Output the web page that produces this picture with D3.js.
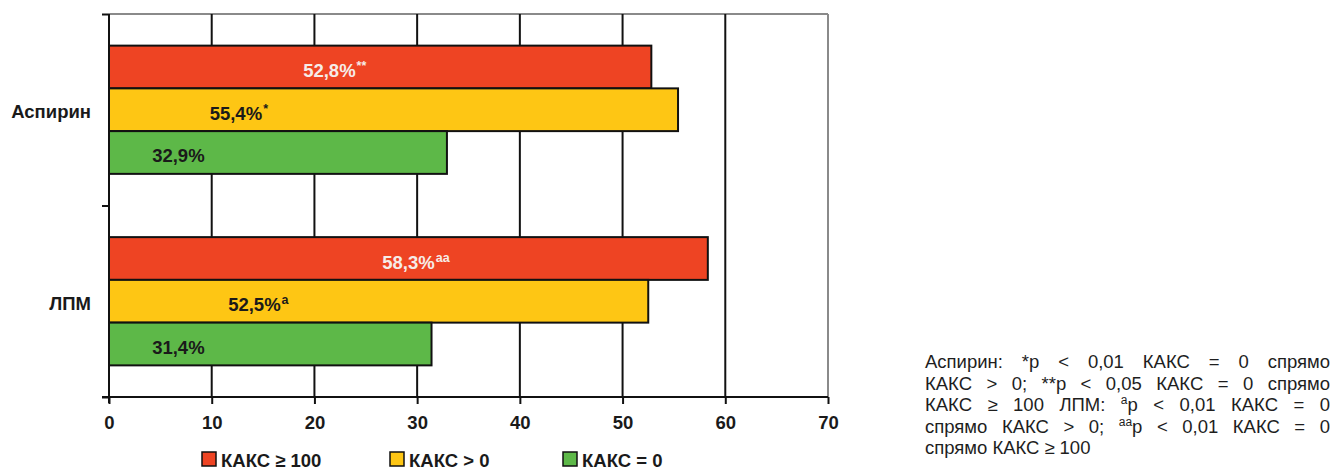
<!DOCTYPE html>
<html><head><meta charset="utf-8">
<script src="https://cdn.jsdelivr.net/npm/d3@7"></script>
<style>body{margin:0;background:#fff}svg{display:block;font-family:"Liberation Sans",Arial,sans-serif}</style>
</head><body>
<svg id="c" width="1332" height="473"></svg>
<script>
// ---- data ----
const categories = ["Аспирин", "ЛПМ"];
const seriesNames = ["КАКС ≥ 100", "КАКС > 0", "КАКС = 0"];
const aspirinValues = [52.8, 55.4, 32.9];
const lpmValues = [58.3, 52.5, 31.4];
const aspirinMarks = ["**", "*", ""];
const lpmMarks = ["aa", "a", ""];
const xTicks = [0, 10, 20, 30, 40, 50, 60, 70];
const footLines = [
  [["Аспирин:"], ["*p"], ["<"], ["0,01"], ["КАКС"], ["="], ["0"], ["спрямо"]],
  [["КАКС"], [">"], ["0;"], ["**p"], ["<"], ["0,05"], ["КАКС"], ["="], ["0"], ["спрямо"]],
  [["КАКС"], ["≥"], ["100"], ["ЛПМ:"], ["^a", "p"], ["<"], ["0,01"], ["КАКС"], ["="], ["0"]],
  [["спрямо"], ["КАКС"], [">"], ["0;"], ["^aa", "p"], ["<"], ["0,01"], ["КАКС"], ["="], ["0"]],
  [["спрямо"], ["КАКС"], ["≥"], ["100"]]
];

// ---- layout / style ----
const colors = ["#ee4423", "#fec614", "#5db848"];
const textColors = ["#f6ece8", "#1a1a1a", "#1a1a1a"];
const labelStartVal = [[18.9, 9.8, 4.2], [26.6, 11.6, 4.2]]; // label anchor in data units
const FS = 18.5;

const svg = d3.select("#c");
const pLeft = 109, pRight = 828, pTop = 14, pBottom = 397;
const x = d3.scaleLinear().domain([0, 70]).range([pLeft, pRight]);
const y0 = d3.scaleBand().domain(categories).range([pTop, pBottom]);
const y1 = d3.scaleBand().domain(seriesNames).range([0, y0.bandwidth()]).paddingOuter(0.74);

const data = categories.map((c, i) => ({
  cat: c,
  vals: (i === 0 ? aspirinValues : lpmValues).map((v, j) => ({
    s: seriesNames[j], v, j, mark: (i === 0 ? aspirinMarks : lpmMarks)[j], start: labelStartVal[i][j]
  }))
}));

// frame (top & right gray)
svg.append("line").attr("x1", pLeft).attr("x2", pRight).attr("y1", pTop).attr("y2", pTop).attr("stroke", "#8a8a8a").attr("stroke-width", 2);
svg.append("line").attr("x1", pRight).attr("x2", pRight).attr("y1", pTop).attr("y2", pBottom).attr("stroke", "#8a8a8a").attr("stroke-width", 2);

// gridlines
svg.append("g").selectAll("line").data(xTicks.filter(t => t > 0 && t < 70)).join("line")
  .attr("x1", d => x(d)).attr("x2", d => x(d)).attr("y1", pTop).attr("y2", pBottom)
  .attr("stroke", "#111").attr("stroke-width", 2);

// bars
const g = svg.append("g").selectAll("g").data(data).join("g")
  .attr("transform", d => `translate(0,${y0(d.cat)})`);
g.selectAll("rect").data(d => d.vals).join("rect")
  .attr("x", x(0)).attr("y", d => y1(d.s))
  .attr("width", d => x(d.v) - x(0)).attr("height", y1.bandwidth())
  .attr("fill", d => colors[d.j]).attr("stroke", "#111").attr("stroke-width", 2);

// bar labels
const lab = g.selectAll("text").data(d => d.vals).join("text")
  .attr("x", d => x(d.start)).attr("y", d => y1(d.s) + y1.bandwidth() / 2 + 3)
  .attr("dominant-baseline", "central")
  .attr("font-size", FS).attr("font-weight", "bold")
  .attr("fill", d => textColors[d.j]);
lab.append("tspan").text(d => d.v.toFixed(1).replace(".", ",") + "%");
lab.append("tspan").attr("font-size", 12.5).attr("dx", 1).attr("dy", -4).text(d => d.mark);

// axes
const xAxis = svg.append("g").attr("transform", `translate(0,${pBottom})`)
  .call(d3.axisBottom(x).tickValues(xTicks).tickSize(7).tickPadding(12).tickFormat(d3.format("d")));
xAxis.select(".domain").attr("stroke", "#111").attr("stroke-width", 2).attr("d", `M${pLeft - 7},0H${pRight}`);
xAxis.selectAll(".tick line").attr("stroke", "#111").attr("stroke-width", 2);
xAxis.selectAll(".tick text").attr("font-size", FS).attr("font-weight", "bold").attr("fill", "#1a1a1a")
  .attr("font-family", "Liberation Sans, Arial, sans-serif");

const yAxisScale = d3.scaleLinear().domain([0, 2]).range([pBottom, pTop]);
const yAxis = svg.append("g").attr("transform", `translate(${pLeft},0)`)
  .call(d3.axisLeft(yAxisScale).tickValues([0, 1, 2]).tickSize(7).tickFormat(""));
yAxis.select(".domain").attr("stroke", "#111").attr("stroke-width", 2).attr("d", `M0,${pTop}V${pBottom + 6}`);
yAxis.selectAll(".tick line").attr("stroke", "#111").attr("stroke-width", 2);

// category labels
svg.append("g").selectAll("text").data(categories).join("text")
  .attr("x", 91).attr("y", d => y0(d) + y0.bandwidth() / 2 + 2)
  .attr("dominant-baseline", "central").attr("text-anchor", "end")
  .attr("font-size", FS).attr("font-weight", "bold").attr("fill", "#1a1a1a")
  .text(d => d);

// legend
const legX = [202, 390, 563];
const leg = svg.append("g").selectAll("g").data(seriesNames).join("g")
  .attr("transform", (d, i) => `translate(${legX[i]},452)`);
leg.append("rect").attr("width", 14).attr("height", 14)
  .attr("fill", (d, i) => colors[i]).attr("stroke", "#111").attr("stroke-width", 1.5);
leg.append("text").attr("x", 19).attr("y", 8).attr("dominant-baseline", "central")
  .attr("font-size", FS).attr("font-weight", "bold").attr("fill", "#1a1a1a").text(d => d);

// footnote (justified)
const fx0 = 925, fx1 = 1330, fy0 = 368, flh = 21.6, FFS = 18.5;
const foot = svg.append("g").attr("fill", "#1e1e1e").attr("font-size", FFS);
footLines.forEach((words, li) => {
  const els = words.map(parts => {
    const t = foot.append("text").attr("y", fy0 + li * flh);
    let raised = false;
    parts.forEach(p => {
      if (p.startsWith("^")) {
        t.append("tspan").attr("font-size", 12).attr("dy", -7).text(p.slice(1));
        raised = true;
      } else {
        t.append("tspan").attr("dy", raised ? 7 : 0).text(p);
        raised = false;
      }
    });
    return t;
  });
  const widths = els.map(e => e.node().getComputedTextLength());
  const total = d3.sum(widths);
  const last = li === footLines.length - 1;
  const gap = last ? 5 : (fx1 - fx0 - total) / (els.length - 1);
  let cx = fx0;
  els.forEach((e, i) => { e.attr("x", cx); cx += widths[i] + gap; });
});
</script>
</body></html>
